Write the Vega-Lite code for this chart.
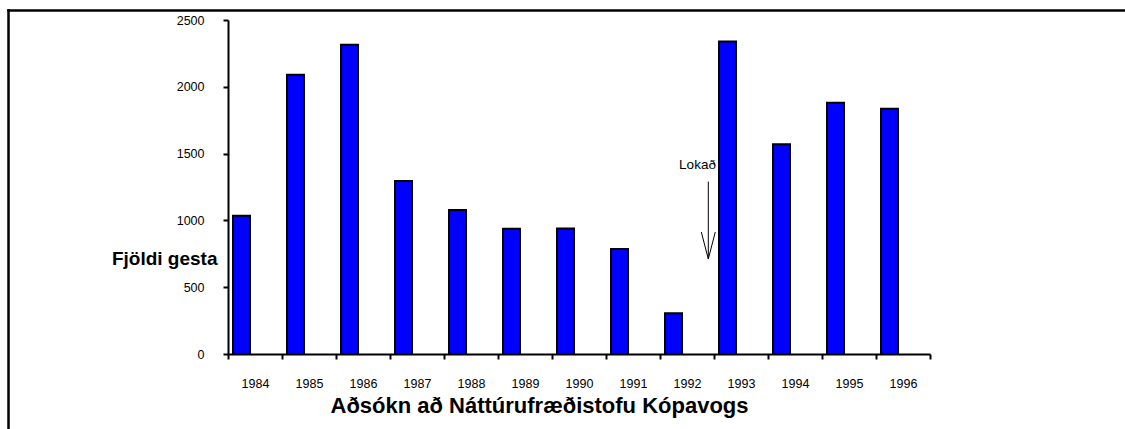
{
  "$schema": "https://vega.github.io/schema/vega-lite/v6.json",
  "width": 1117,
  "height": 419,
  "autosize": {"type": "none"},
  "padding": {"left": 8, "top": 10, "right": 0, "bottom": 0},
  "background": "white",
  "config": {
    "view": {"stroke": null},
    "font": "Liberation Sans"
  },
  "data": {
    "values": [
      {"year": "1984", "visitors": 1035},
      {"year": "1985", "visitors": 2090},
      {"year": "1986", "visitors": 2315},
      {"year": "1987", "visitors": 1295},
      {"year": "1988", "visitors": 1078},
      {"year": "1989", "visitors": 938},
      {"year": "1990", "visitors": 940},
      {"year": "1991", "visitors": 785},
      {"year": "1992", "visitors": 305},
      {"year": "1993", "visitors": 2340},
      {"year": "1994", "visitors": 1570},
      {"year": "1995", "visitors": 1880},
      {"year": "1996", "visitors": 1835}
    ]
  },
  "layer": [
    {
      "layer": [
        {
          "mark": {
            "type": "bar",
            "fill": "#0000FF",
            "stroke": "black",
            "strokeWidth": 2,
            "width": {"band": 0.315},
            "xOffset": -13.5
          },
          "encoding": {
            "x": {
              "field": "year",
              "type": "nominal",
              "sort": null,
              "scale": {"range": [220, 922], "paddingInner": 0, "paddingOuter": 0},
              "axis": {
                "title": "Aðsókn að Náttúrufræðistofu Kópavogs",
                "orient": "bottom",
                "offset": -75,
                "labelAngle": 0,
                "tickBand": "extent",
                "tickSize": 5,
                "tickWidth": 2,
                "tickColor": "black",
                "domainColor": "black",
                "domainWidth": 2,
                "labelFont": "Liberation Sans",
                "labelFontSize": 12.5,
                "labelColor": "black",
                "labelPadding": 18,
                "titleFont": "Liberation Sans",
                "titleFontSize": 22,
                "titleFontWeight": "bold",
                "titleColor": "black",
                "titleX": 531,
                "titleY": 58,
                "titleAlign": "center",
                "titleBaseline": "alphabetic",
                "grid": false
              }
            },
            "y": {
              "field": "visitors",
              "type": "quantitative",
              "scale": {"domain": [0, 2500], "nice": false, "range": [344, 10]},
              "axis": {
                "title": "Fjöldi gesta",
                "orient": "left",
                "offset": -220,
                "values": [0, 500, 1000, 1500, 2000, 2500],
                "format": "d",
                "tickSize": 5,
                "tickWidth": 2,
                "tickColor": "black",
                "domainColor": "black",
                "domainWidth": 2,
                "labelFont": "Liberation Sans",
                "labelFontSize": 12.5,
                "labelColor": "black",
                "labelPadding": 19,
                "labelOverlap": false,
                "labelBound": false,
                "titleFont": "Liberation Sans",
                "titleFontSize": 19,
                "titleFontWeight": "bold",
                "titleColor": "black",
                "titleAngle": 0,
                "titleX": -11,
                "titleY": 254,
                "titleAlign": "right",
                "titleBaseline": "alphabetic",
                "grid": false
              }
            }
          }
        },
        {
          "data": {"values": [{"year": "1992", "label": "Lokað", "level": 1415}]},
          "mark": {
            "type": "text",
            "font": "Liberation Sans",
            "fontSize": 13.5,
            "color": "black",
            "align": "center",
            "baseline": "middle",
            "xOffset": 10.5
          },
          "encoding": {
            "x": {"field": "year", "type": "nominal"},
            "y": {"field": "level", "type": "quantitative"},
            "text": {"field": "label"}
          }
        },
        {
          "data": {"values": [{"year": "1992", "top": 1290, "tip": 711}]},
          "mark": {"type": "rule", "color": "black", "strokeWidth": 1, "xOffset": 21.3},
          "encoding": {
            "x": {"field": "year", "type": "nominal"},
            "y": {"field": "top", "type": "quantitative"},
            "y2": {"field": "tip"}
          }
        },
        {
          "data": {"values": [{"year": "1992", "tip": 711}]},
          "mark": {
            "type": "point",
            "shape": "M -1 -3.86 L 0 0 L 1 -3.86",
            "size": 196,
            "filled": false,
            "stroke": "black",
            "strokeWidth": 1,
            "opacity": 1,
            "xOffset": 21.3
          },
          "encoding": {
            "x": {"field": "year", "type": "nominal"},
            "y": {"field": "tip", "type": "quantitative"}
          }
        }
      ]
    },
    {
      "mark": {"type": "point", "opacity": 0},
      "encoding": {
        "x": {
          "datum": 0,
          "type": "quantitative",
          "scale": {"domain": [0, 1], "range": [0, 1300]},
          "axis": {
            "orient": "top",
            "offset": 0,
            "domain": true,
            "domainColor": "black",
            "domainWidth": 2.5,
            "domainCap": "square",
            "ticks": false,
            "labels": false,
            "title": null,
            "grid": false
          }
        },
        "y": {
          "datum": 0,
          "type": "quantitative",
          "scale": {"domain": [0, 1], "range": [600, 0]},
          "axis": {
            "orient": "left",
            "offset": 0,
            "domain": true,
            "domainColor": "black",
            "domainWidth": 2.5,
            "domainCap": "square",
            "ticks": false,
            "labels": false,
            "title": null,
            "grid": false
          }
        }
      }
    }
  ],
  "resolve": {
    "scale": {"x": "independent", "y": "independent"},
    "axis": {"x": "independent", "y": "independent"}
  }
}
